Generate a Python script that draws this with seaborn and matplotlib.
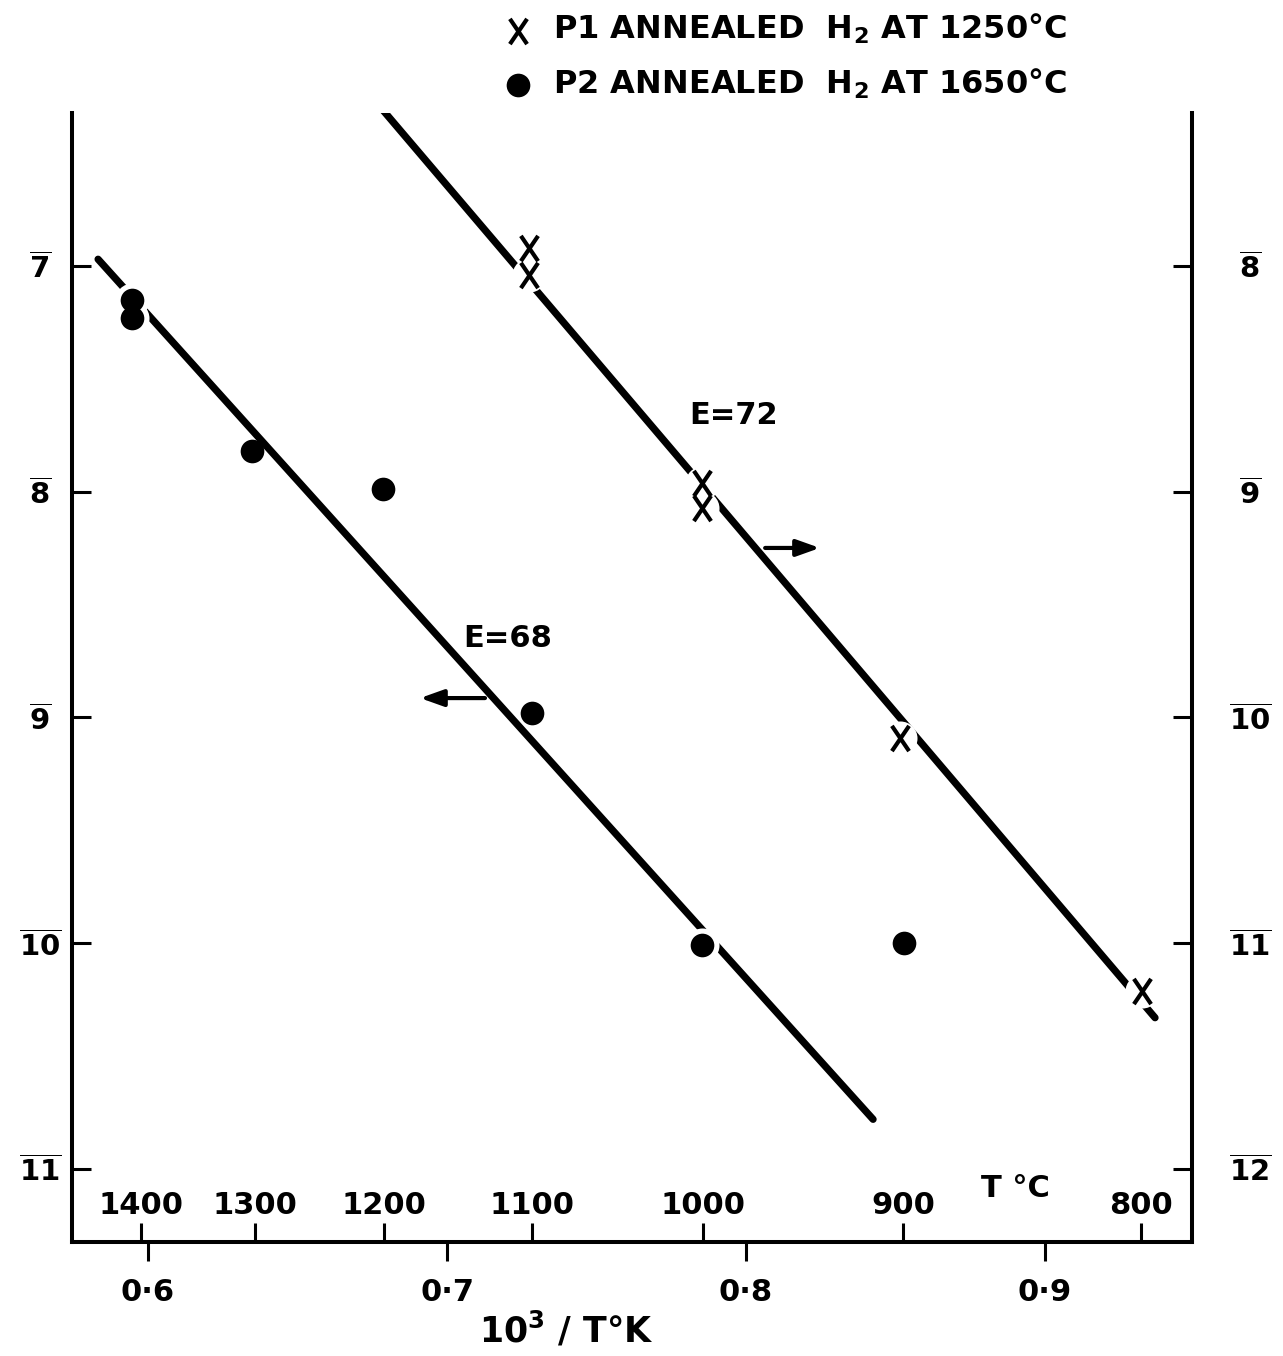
import numpy as np
import pandas as pd
import matplotlib
matplotlib.use("Agg")
import matplotlib.pyplot as plt
import seaborn as sns
from matplotlib.path import Path

# ---------------- data ----------------
# P2 annealed in H2 at 1650 C  (left axis, log10 scale, bar notation)
p2_x = [0.5946, 0.5946, 0.6348, 0.6786, 0.7284, 0.7853, 0.8528]
p2_y = [-7.15, -7.23, -7.82, -7.99, -8.98, -10.01, -10.00]
p2_on_line = [True, True, False, False, False, True, False]

# P1 annealed in H2 at 1250 C  (right axis)
p1_x = [0.7274, 0.7274, 0.7853, 0.7853, 0.8515, 0.9324]
p1_y = [-7.92, -8.04, -8.96, -9.07, -10.09, -11.21]
p1_on_line = [True, True, True, True, True, True]

# fitted straight lines
p2_fit_x = [0.5833, 0.8425]
p2_fit_y = [-6.97, -10.78]
p1_fit_x = [0.6786, 0.9368]
p1_fit_y = [-7.31, -11.33]

left_ticks = [-7, -8, -9, -10, -11]
left_labels = [r"$\overline{7}$", r"$\overline{8}$", r"$\overline{9}$",
               r"$\overline{10}$", r"$\overline{11}$"]
right_ticks = [-8, -9, -10, -11, -12]
right_labels = [r"$\overline{8}$", r"$\overline{9}$", r"$\overline{10}$",
                r"$\overline{11}$", r"$\overline{12}$"]
inv_t_ticks = [0.6, 0.7, 0.8, 0.9]
inv_t_labels = ["0·6", "0·7", "0·8", "0·9"]
temps_c = [1400, 1300, 1200, 1100, 1000, 900, 800]
temp_labels = ["1400", "1300", "1200", "1100", "1000", "900", "800"]

p1_label = "P1 ANNEALED  H$_2$ AT 1250°C"
p2_label = "P2 ANNEALED  H$_2$ AT 1650°C"

# ---------------- style ----------------
sns.set_style("white")
plt.rcParams["font.family"] = ["DejaVu Sans"]
plt.rcParams["font.weight"] = "bold"
plt.rcParams["mathtext.fontset"] = "dejavusans"
plt.rcParams["mathtext.default"] = "bf"
plt.rcParams["text.color"] = "black"
plt.rcParams["xtick.color"] = "black"
plt.rcParams["ytick.color"] = "black"
plt.rcParams["axes.labelcolor"] = "black"
plt.rcParams["axes.linewidth"] = 2.9

W, H = 1283, 1356
fig = plt.figure(figsize=(W / 100, H / 100), dpi=100)
ax = fig.add_axes([72 / W, (H - 1242) / H, 1120 / W, 1129 / H])
ax.set_xlim(0.57458, 0.94916)
ax.set_ylim(-11.3234, -6.3223)
ax2 = ax.twinx()
lo, hi = ax.get_ylim()
ax2.set_ylim(lo - 1, hi - 1)

for a in (ax, ax2):
    a.spines["top"].set_visible(False)
    for s in a.spines.values():
        s.set_linewidth(2.9)
        s.set_color("black")
    a.patch.set_visible(False)
ax2.spines["left"].set_visible(False)
ax2.spines["bottom"].set_visible(False)
ax.spines["right"].set_visible(False)

df2 = pd.DataFrame({"x": p2_x, "y": p2_y, "on": p2_on_line})
df1 = pd.DataFrame({"x": p1_x, "y": p1_y, "on": p1_on_line})

# fitted lines
sns.lineplot(x=p2_fit_x, y=p2_fit_y, ax=ax, color="black", linewidth=5.2,
             zorder=2, solid_capstyle="round")
sns.lineplot(x=p1_fit_x, y=p1_fit_y, ax=ax2, color="black", linewidth=5.2,
             zorder=2, solid_capstyle="round")

# white gaps where the line passes through a marker
gap = 600
sns.scatterplot(data=df2[df2["on"]], x="x", y="y", ax=ax, color="white",
                s=gap, linewidth=0, zorder=3, legend=False)
sns.scatterplot(data=df1[df1["on"]], x="x", y="y", ax=ax2, color="white",
                s=gap, linewidth=0, zorder=3, legend=False)

# markers
sns.scatterplot(data=df2, x="x", y="y", ax=ax, marker="o", s=290,
                color="black", edgecolor="black", linewidth=0, zorder=4,
                legend=False)
h_p2 = ax.collections[-1]
xpath = Path([(-0.34, -0.5), (0.34, 0.5), (-0.34, 0.5), (0.34, -0.5)],
             [Path.MOVETO, Path.LINETO, Path.MOVETO, Path.LINETO])
sns.scatterplot(data=df1, x="x", y="y", ax=ax2, marker=xpath, s=330,
                color="black", edgecolor="black", linewidth=3.0, zorder=4,
                legend=False)
h_p1 = ax2.collections[-1]

# axes ticks
ax.set_xticks(inv_t_ticks)
ax.set_xticklabels(inv_t_labels)
ax.tick_params(axis="x", direction="out", length=14, width=2.2, pad=12,
               labelsize=22, bottom=True)
ax.set_yticks(left_ticks)
ax.set_yticklabels(left_labels, ha="center")
ax.tick_params(axis="y", direction="in", length=14, width=2.2, pad=23,
               labelsize=21, left=True)
ax2.set_yticks(right_ticks)
ax2.set_yticklabels(right_labels, ha="center")
ax2.tick_params(axis="y", direction="in", length=14, width=2.2, pad=42,
                labelsize=21, right=True)
ax.set_xlabel("")
ax.set_ylabel("")
ax2.set_ylabel("")

# temperature scale drawn inside along the bottom
sec = ax.secondary_xaxis("bottom", functions=(lambda v: 1000.0 / v - 273.0,
                                               lambda t: 1000.0 / (t + 273.0)))
sec.set_xticks(temps_c)
sec.set_xticklabels(temp_labels)
sec.tick_params(axis="x", direction="in", length=14, width=2.2, pad=-37,
                labelsize=22, colors="black")
sec.spines["bottom"].set_visible(False)

ax.text(0.842, 0.047, "T °C", transform=ax.transAxes, ha="center",
        va="center", fontsize=22)

# axis title
fig.text(566 / W, 1 - 1330 / H, r"10$^{3}$ / T°K", ha="center", va="center",
         fontsize=25)

# annotations
ax2.text(0.7957, -8.664, "E=72", ha="center", va="center", fontsize=22)
ax.text(0.7204, -8.648, "E=68", ha="center", va="center", fontsize=22)
arrow = dict(arrowstyle="-|>,head_length=0.7,head_width=0.25", lw=3,
             color="black", shrinkA=0, shrinkB=0, mutation_scale=20)
ax2.annotate("", xy=(0.8247, -9.249), xytext=(0.8064, -9.249),
             arrowprops=arrow)
ax.annotate("", xy=(0.6910, -8.914), xytext=(0.7127, -8.914),
            arrowprops=arrow)

# legend
fig.legend([h_p1, h_p2], [p1_label, p2_label], loc="upper left",
           bbox_to_anchor=(502 / W, 1 - 12 / H), frameon=False, fontsize=23,
           handlelength=1.0, handletextpad=0.6, labelspacing=0.62,
           borderpad=0, borderaxespad=0)

fig.savefig("out.png", dpi=100)
